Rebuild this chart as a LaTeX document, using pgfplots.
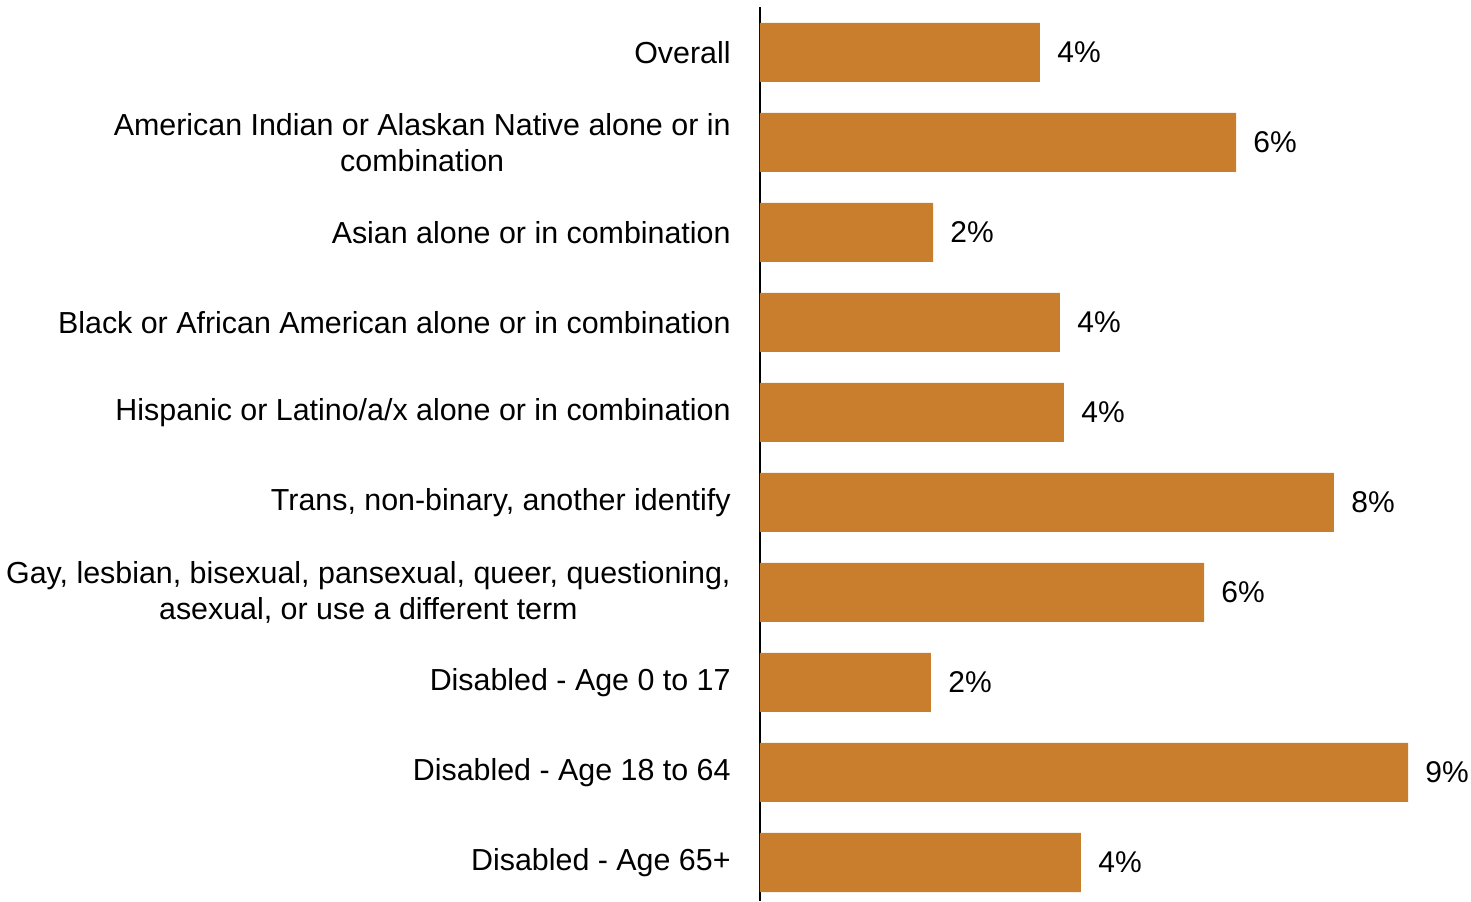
\documentclass[border=0pt]{standalone}
\usepackage{pgfplots}
\pgfplotsset{compat=1.18}
\usepackage{fontspec}
\setmainfont{Liberation Sans}
\definecolor{barc}{RGB}{201,126,45}
\begin{document}
\fontsize{15.2pt}{18pt}\selectfont
\begin{tikzpicture}
\begin{axis}[
  at={(0,0)}, anchor=south west,
  scale only axis, width=352.5pt, height=446.75pt,
  xbar, bar width=29.5pt,
  xmin=0, xmax=9.4, ymin=-0.5, ymax=9.428,
  y dir=reverse,
  axis x line=none, axis y line=left,
  axis line style={-, line width=1pt, black},
  ytick={0,...,9},
  yticklabels={Overall,
    {American Indian or Alaskan Native alone or in\\combination},
    Asian alone or in combination,
    Black or African American alone or in combination,
    Hispanic or Latino/a/x alone or in combination,
    {Trans, non-binary, another identify},
    {Gay, lesbian, bisexual, pansexual, queer, questioning,\\asexual, or use a different term},
    Disabled - Age 0 to 17,
    Disabled - Age 18 to 64,
    Disabled - Age 65+},
  major tick length=0pt,
  yticklabel style={align=center, inner sep=0pt, xshift=-14.5pt,
    font=\fontsize{15.2pt}{18pt}\selectfont},
  /pgf/number format/assume math mode=true,
  nodes near coords={\pgfmathprintnumber[fixed,precision=0,assume math mode=true]{\pgfplotspointmeta}\%},
  nodes near coords style={inner sep=0pt, xshift=8.5pt, anchor=west,
    font=\fontsize{15pt}{18pt}\selectfont},
  clip=false,
]
\addplot[fill=barc, draw=none] coordinates {
  (3.733,0) (6.347,1) (2.307,2) (4.0,3) (4.053,4)
  (7.653,5) (5.92,6) (2.28,7) (8.64,8) (4.28,9)};
\end{axis}
\pgfresetboundingbox
\path (-380pt,0pt) rectangle (355.5pt,450.5pt);
\end{tikzpicture}
\end{document}
